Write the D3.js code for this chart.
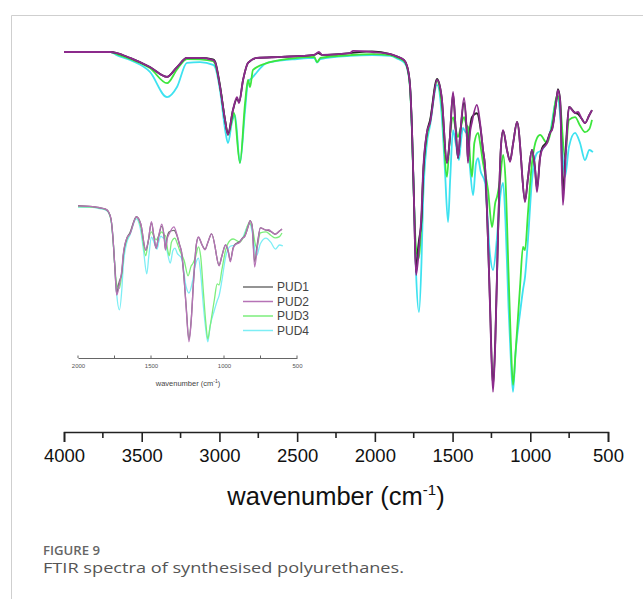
<!DOCTYPE html>
<meta charset="utf-8" />
<style>
    body { margin: 0; background: #fff; }
    .axis text { font-family: "Liberation Sans", Arial, sans-serif; }
</style>
<svg width="643" height="599"></svg>
<script src="https://d3js.org/d3.v7.min.js"></script>
<script>
    // wavenumber (cm-1) / transmittance (%) pairs
    var pud1 = [[4000,98],[3700,98],[3660,97.7],[3575,96.3],[3447,93.7],[3337,90.9],[3273,93.7],[3209,96.3],[3125,96.3],[3041,95.9],[3028,95.3],[2996,88.3],[2964,78.6],[2945,74.6],[2913,81.4],[2887,84.6],[2874,83.7],[2848,90.0],[2816,94.9],[2758,96.3],[2600,96.6],[2390,97.2],[2365,97.7],[2340,97.2],[2160,97.7],[2100,98.0],[2018,98.2],[1900,97.4],[1851,96.6],[1812,95.7],[1793,94.0],[1774,88.6],[1761,75.7],[1748,55],[1735,35],[1722,42],[1716,44.3],[1700,50],[1690,62],[1665,75],[1645,78.5],[1600,90.3],[1570,85],[1536,66.3],[1520,72],[1497,86],[1480,76],[1465,67.7],[1450,75],[1426,83.5],[1410,76],[1401,67],[1390,75],[1375,79.4],[1343,80.5],[1323,77],[1304,70],[1291,65.1],[1272,44],[1259,26],[1240,2.5],[1225,16],[1208,45.1],[1190,70],[1175,75.5],[1150,70],[1130,67],[1110,72],[1085,78.0],[1060,68],[1053,63.4],[1034,55.5],[1015,62],[989,70.0],[970,65],[957,59],[937,68],[925,70.5],[892,72.5],[873,75],[860,76],[834,83.4],[822,87.4],[808,84.5],[790,58],[770,72],[751,82.3],[712,80.6],[693,80.3],[670,79],[648,77.7],[620,80],[603,81.4]];
    var pud2 = [[4000,98],[3700,98],[3660,97.7],[3575,96.3],[3447,93.7],[3337,90.9],[3273,93.7],[3209,96.3],[3125,96.3],[3041,95.7],[3028,95.1],[2996,88.0],[2964,78.6],[2945,74.3],[2913,81.4],[2887,85.1],[2874,83.4],[2848,90.0],[2816,94.9],[2758,96.3],[2600,96.6],[2390,97.2],[2360,98.0],[2340,97.2],[2160,97.7],[2140,98.3],[2018,98.0],[1900,97.4],[1851,96.6],[1812,95.7],[1793,94.0],[1774,88.6],[1761,75.7],[1748,55],[1735,34.3],[1716,42],[1700,52],[1690,63.4],[1665,75],[1645,77.7],[1600,90.0],[1570,85],[1536,66.3],[1520,72],[1497,86.6],[1480,76],[1465,67.7],[1450,75],[1426,84.9],[1410,76],[1401,66.3],[1390,74],[1375,78],[1343,82.9],[1323,77.7],[1304,70],[1291,65.1],[1272,44.3],[1259,25],[1240,0.9],[1225,15],[1208,45.1],[1190,70],[1175,75.7],[1150,70],[1130,66.6],[1110,72],[1085,78.0],[1060,68],[1053,63.4],[1034,55.1],[1015,62],[989,70.0],[970,65],[957,58.0],[937,67.7],[925,70],[892,72],[873,74.9],[860,75.7],[834,83.4],[822,87.1],[808,84],[790,54.3],[770,70],[751,82.3],[712,80.6],[693,80.9],[670,79],[648,77.7],[620,80],[603,81.4]];
    var pud3 = [[4000,98],[3700,98],[3660,97.4],[3575,96.0],[3447,93.4],[3337,89.1],[3273,93.0],[3209,96.0],[3125,95.9],[3041,95.4],[3028,94.6],[2996,88],[2964,78.6],[2945,74.3],[2919,78.6],[2906,80.6],[2868,66.3],[2835,83.4],[2816,90.0],[2803,88.0],[2784,92.9],[2675,95.1],[2500,96.3],[2390,96.6],[2372,95.1],[2350,96.3],[2160,97.1],[2018,97.4],[1900,97.1],[1851,96.3],[1812,95.4],[1793,93.7],[1774,88],[1761,75],[1748,55],[1735,42],[1716,39.1],[1700,50],[1690,62],[1665,74],[1645,78],[1600,89.7],[1570,83],[1536,62.3],[1520,72],[1497,79.4],[1480,76],[1465,73.7],[1450,76],[1426,79.4],[1410,77],[1401,76.6],[1385,66],[1375,62.3],[1360,72],[1336,74.9],[1323,72],[1304,66.3],[1272,58.6],[1246,48.0],[1225,55],[1214,56.6],[1195,61.4],[1175,68.6],[1160,62],[1140,35],[1125,15],[1111,2.9],[1095,12],[1066,30.9],[1047,42.3],[1034,41.4],[1015,52.0],[989,66.3],[957,73.4],[937,74.3],[892,72.0],[860,77.0],[828,85.7],[808,83],[777,68.0],[751,78.6],[712,79.4],[680,77],[648,75.1],[620,76],[603,78.6]];
    var pud4 = [[4000,98],[3700,98],[3660,97.1],[3575,95.7],[3447,92.3],[3337,85.1],[3273,88.0],[3209,94.9],[3125,95.1],[3041,94.3],[3028,93.7],[2996,87],[2964,76],[2945,72.0],[2919,78],[2900,80.0],[2868,66.3],[2835,81.4],[2816,89.4],[2790,90.6],[2694,94.9],[2500,96.0],[2390,96.3],[2372,95.0],[2350,96.0],[2160,96.9],[2018,97.1],[1900,96.9],[1851,96.0],[1812,95.0],[1793,93.4],[1774,88],[1761,75],[1748,55],[1735,35],[1716,23.7],[1700,38],[1690,55],[1665,72],[1645,77],[1600,88.6],[1570,80],[1550,65],[1529,49.4],[1515,62],[1497,75.7],[1480,72],[1459,67.1],[1445,73],[1433,76.3],[1415,75],[1407,74.9],[1390,66],[1368,57.1],[1350,66],[1336,67.7],[1320,64],[1291,60.6],[1259,40.0],[1240,35.7],[1214,45.1],[1195,56],[1175,60.6],[1160,50],[1140,25],[1125,10],[1111,0.9],[1095,12],[1066,23.4],[1047,30],[1034,33.7],[1015,44.3],[989,61.4],[957,69.1],[925,70.0],[873,74.9],[834,84.3],[822,85.1],[808,80],[777,62.3],[751,70.9],[712,74.9],[680,72.0],[648,67.1],[620,70],[597,69.4]];

    var seriesNames = ["PUD1", "PUD2", "PUD3", "PUD4"];
    var mainTicks = [4000, 3500, 3000, 2500, 2000, 1500, 1000, 500];
    var insetTicks = [2000, 1500, 1000, 500];

    var series = [
        { name: "PUD4", data: pud4, color: "#3ee2f0", inset: "#7deef5" },
        { name: "PUD3", data: pud3, color: "#3de63d", inset: "#7cee7c" },
        { name: "PUD1", data: pud1, color: "#262626", inset: "#707070" },
        { name: "PUD2", data: pud2, color: "#8c2a8c", inset: "#b673b6" }
    ];

    var svg = d3.select("svg");

    // page frame
    svg.append("path")
        .attr("d", "M11.5,599V15.5H643")
        .attr("fill", "none")
        .attr("stroke", "#cfcfcf");

    // main plot
    var x = d3.scaleLinear().domain([4000, 500]).range([64, 608]);
    var y = d3.scaleLinear().domain([0, 100]).range([395, 45]);

    var line = d3.line()
        .x(function (d) { return x(d[0]); })
        .y(function (d) { return y(d[1]); })
        .curve(d3.curveMonotoneX);

    svg.append("g")
        .selectAll("path")
        .data(series)
        .enter()
        .append("path")
        .attr("d", function (d) { return line(d.data); })
        .attr("fill", "none")
        .attr("stroke", function (d) { return d.color; })
        .attr("stroke-width", 1.8)
        .attr("stroke-linejoin", "round");

    var xAxis = svg.append("g")
        .attr("class", "axis")
        .attr("transform", "translate(0,432)")
        .call(d3.axisBottom(x).tickValues(mainTicks).tickFormat(d3.format("d")).tickSize(10).tickPadding(7));
    xAxis.select(".domain").attr("stroke", "#222").attr("stroke-width", 1.6);
    xAxis.selectAll(".tick line").attr("stroke", "#222").attr("stroke-width", 1.6);
    xAxis.selectAll("text").attr("font-size", 18.5).attr("fill", "#111");

    svg.append("g")
        .attr("transform", "translate(0,432)")
        .selectAll("line")
        .data(d3.range(3750, 500, -500))
        .enter()
        .append("line")
        .attr("x1", function (d) { return x(d); })
        .attr("x2", function (d) { return x(d); })
        .attr("y1", 0)
        .attr("y2", 6)
        .attr("stroke", "#222")
        .attr("stroke-width", 1.6);

    var title = svg.append("text")
        .attr("x", 336)
        .attr("y", 505)
        .attr("text-anchor", "middle")
        .attr("font-family", "Liberation Sans, Arial, sans-serif")
        .attr("font-size", 25.5)
        .attr("fill", "#111");
    title.append("tspan").text("wavenumber (cm");
    title.append("tspan").attr("dy", -10).attr("font-size", 15).text("-1");
    title.append("tspan").attr("dy", 10).text(")");

    // inset (zoom on 2000-500 cm-1)
    var xi = d3.scaleLinear().domain([2000, 500]).range([78, 297]);
    var yi = d3.scaleLinear().domain([0, 100]).range([343, 203]);

    svg.append("clipPath")
        .attr("id", "insetClip")
        .append("rect")
        .attr("x", 78).attr("y", 190).attr("width", 230).attr("height", 170);

    var lineInset = d3.line()
        .x(function (d) { return xi(d[0]); })
        .y(function (d) { return yi(d[1]); })
        .curve(d3.curveMonotoneX);

    svg.append("g")
        .attr("clip-path", "url(#insetClip)")
        .selectAll("path")
        .data(series)
        .enter()
        .append("path")
        .attr("d", function (d) { return lineInset(d.data.filter(function (p) { return p[0] < 2100; })); })
        .attr("fill", "none")
        .attr("stroke", function (d) { return d.inset; })
        .attr("stroke-width", 1.3);

    var xiAxis = svg.append("g")
        .attr("class", "axis")
        .attr("transform", "translate(0,358)")
        .call(d3.axisBottom(xi).tickValues(insetTicks).tickFormat(d3.format("d")).tickSize(0).tickPadding(6));
    xiAxis.select(".domain").attr("stroke", "#666");
    xiAxis.selectAll("text").attr("font-size", 6).attr("fill", "#555");

    svg.append("g")
        .selectAll("line")
        .data(d3.range(2000, 499, -250))
        .enter()
        .append("line")
        .attr("x1", function (d) { return xi(d); })
        .attr("x2", function (d) { return xi(d); })
        .attr("y1", 355.5)
        .attr("y2", 358)
        .attr("stroke", "#666");

    var titleInset = svg.append("text")
        .attr("x", 188)
        .attr("y", 386)
        .attr("text-anchor", "middle")
        .attr("font-family", "Liberation Sans, Arial, sans-serif")
        .attr("font-size", 7.5)
        .attr("fill", "#444");
    titleInset.append("tspan").text("wavenumber (cm");
    titleInset.append("tspan").attr("dy", -3).attr("font-size", 5).text("-1");
    titleInset.append("tspan").attr("dy", 3).text(")");

    // legend
    var legendColors = { PUD1: "#707070", PUD2: "#b673b6", PUD3: "#7cee7c", PUD4: "#7deef5" };
    var legend = svg.append("g")
        .selectAll("g")
        .data(seriesNames)
        .enter()
        .append("g")
        .attr("transform", function (d, i) { return "translate(243," + (287 + i * 14.5) + ")"; });
    legend.append("line")
        .attr("x1", 0).attr("x2", 30)
        .attr("stroke", function (d) { return legendColors[d]; })
        .attr("stroke-width", 1.5);
    legend.append("text")
        .attr("x", 34)
        .attr("dy", "0.35em")
        .attr("font-family", "Liberation Sans, Arial, sans-serif")
        .attr("font-size", 12)
        .attr("fill", "#444")
        .text(function (d) { return d; });

    // caption
    svg.append("text")
        .attr("x", 43)
        .attr("y", 555)
        .attr("font-family", "Open Sans, sans-serif")
        .attr("font-size", 12)
        .attr("font-weight", 600)
        .attr("fill", "#666")
        .attr("textLength", 57)
        .attr("lengthAdjust", "spacingAndGlyphs")
        .text("FIGURE 9");
    svg.append("text")
        .attr("x", 43)
        .attr("y", 573)
        .attr("font-family", "Open Sans, sans-serif")
        .attr("font-size", 14)
        .attr("fill", "#555")
        .attr("textLength", 361)
        .attr("lengthAdjust", "spacingAndGlyphs")
        .text("FTIR spectra of synthesised polyurethanes.");
</script>
